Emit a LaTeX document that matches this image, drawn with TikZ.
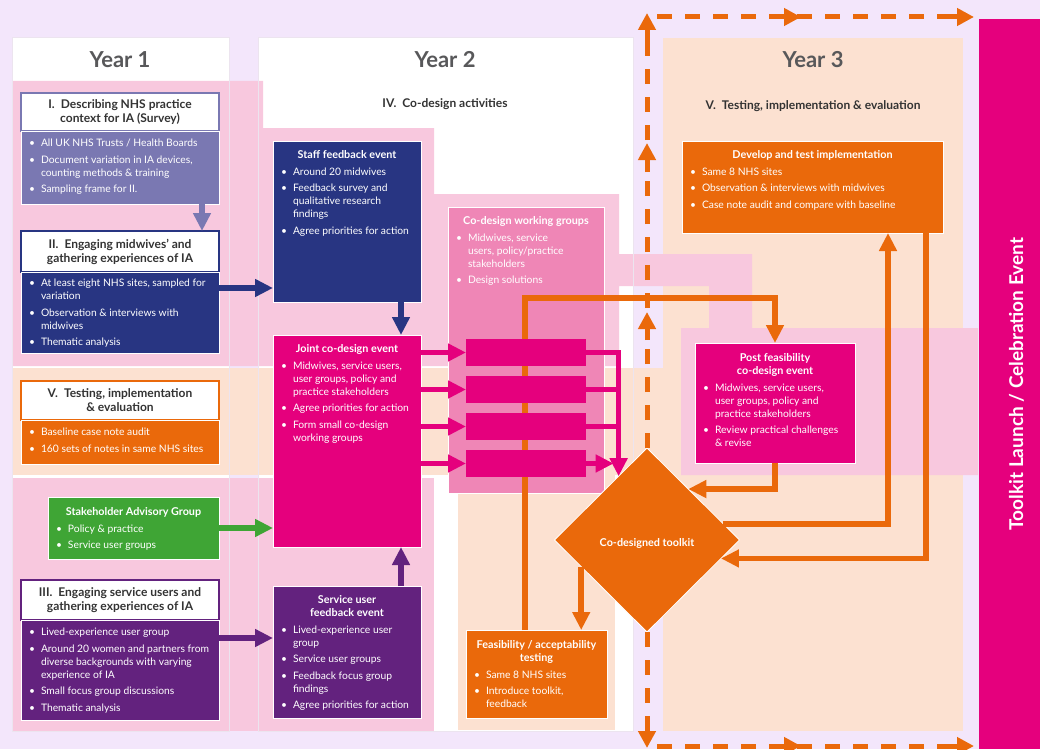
\documentclass[tikz,border=0pt]{standalone}
\usepackage{fontspec}
\setmainfont{Lato}
\usetikzlibrary{arrows.meta,shapes.geometric,calc}

\definecolor{lav}{HTML}{F3E6FB}
\definecolor{lpink}{HTML}{F8C8DE}
\definecolor{peach}{HTML}{FCE1D1}
\definecolor{mpink}{HTML}{EF86B6}
\definecolor{mag}{HTML}{E5007D}
\definecolor{navy}{HTML}{283582}
\definecolor{pgray}{HTML}{7A78B2}
\definecolor{purp}{HTML}{63227E}
\definecolor{orng}{HTML}{EA690B}
\definecolor{grn}{HTML}{3FA535}
\definecolor{ttlgray}{HTML}{58585A}
\definecolor{dark}{HTML}{333333}
\definecolor{colline}{HTML}{ECE4EF}

\newlength{\bulw}\setlength{\bulw}{12pt}
\newcommand{\itm}[1]{\par\hangindent=\bulw\hangafter=1\noindent\hbox to\bulw{\textbullet\hss}#1}
\newcommand{\ttl}[2]{{\centering\bfseries\fontsize{10.8}{13}\selectfont\rule{0pt}{#1}#2\par}}
\newcommand{\cbox}[3]{\parbox[t][#2][t]{#1}{\fontsize{10.3}{13}\selectfont\raggedright\setlength{\leftskip}{8pt}\setlength{\rightskip}{-30pt plus 1fil}\setlength{\parskip}{3.5pt}#3}}

\begin{document}
\begin{tikzpicture}[x=1pt,y=-1pt,
  box/.style={anchor=north west, inner sep=0pt, outer sep=0pt, text=white, draw=white, line width=0.6pt},
  barbox/.style={anchor=north west, inner sep=0pt, outer sep=0pt, fill=mag, minimum width=120pt, minimum height=27pt},
  hdr/.style={anchor=north west, fill=white, draw=#1, line width=1.2pt, minimum width=198pt, inner sep=0pt, outer sep=0pt, align=center, text=dark, font=\bfseries\fontsize{12}{14}\selectfont},
  yr/.style={font=\bfseries\fontsize{22}{24}\selectfont, text=ttlgray},
  sect/.style={font=\bfseries\fontsize{12}{14}\selectfont, text=dark},
  arr/.style={line width=5.5pt, -{Triangle[length=18pt,width=17pt]}},
  mline/.style={draw=mag, line width=5pt},
  dsh/.style={draw=orng, line width=5pt, dash pattern=on 15pt off 13pt},
  dhd/.style={draw=orng, line width=5pt, -{Triangle[length=17pt,width=17pt]}}
]
\useasboundingbox (0,0) rectangle (1040,749);
% backgrounds
\fill[lav] (0,0) rectangle (1040,749);
\fill[peach] (663,38) rectangle (963,731);
\fill[white] (12,38) rectangle (229,731);
\fill[white] (258,38) rectangle (633,731);
\fill[lpink] (12,81) -- (263,81) -- (263,128) -- (434,128) -- (434,194) -- (619,194) -- (619,254) -- (752,254) -- (752,328) -- (978,328) -- (978,475) -- (681,475) -- (681,328) -- (709,328) -- (709,286) -- (619,286) -- (619,366) -- (12,366) -- cycle;
\fill[peach] (12,368) rectangle (663,475);
\fill[peach] (458,475) rectangle (615,730);
\fill[lpink] (12,478) rectangle (434,731);
\draw[colline, line width=1pt] (12,38) rectangle (229,731);
\draw[colline, line width=1pt] (258,38) rectangle (633,731);

% toolkit bar
\node[fill=mag, rotate=90, minimum width=730pt, minimum height=61pt, inner sep=0pt, text=white, font=\bfseries\fontsize{19}{22}\selectfont] (tk) at (1009.5,384) {\raisebox{-7pt}[\height][\depth]{Toolkit Launch / Celebration Event}};

% titles
\node[yr] (y1) at (120,60) {Year 1};
\node[yr] (y2) at (445,60) {Year 2};
\node[yr] (y3) at (813,60) {Year 3};
\node[sect] (s4) at (445,104) {IV.\enspace Co-design activities};
\node[sect] (s5) at (813,106) {V.\enspace Testing, implementation \& evaluation};

% Year 1 boxes
\node[hdr=pgray, minimum height=38pt] (h1) at (21,93) {I.\enspace Describing NHS practice\\context for IA (Survey)};
\node[box, fill=pgray] (b1) at (21,131) {\cbox{198pt}{73pt}{\itm{\rule{0pt}{15.5pt}All UK NHS Trusts / Health Boards}\itm{Document variation in IA devices,\newline counting methods \& training}\itm{Sampling frame for II.}}};
\node[hdr=navy, minimum height=41pt] (h2) at (21,231) {II.\enspace Engaging midwives’ and\\gathering experiences of IA};
\node[box, fill=navy] (b2) at (21,272) {\cbox{198pt}{81pt}{\itm{\rule{0pt}{14.5pt}At least eight NHS sites, sampled for\newline variation}\itm{Observation \& interviews with\newline midwives}\itm{Thematic analysis}}};
\node[hdr=orng, minimum height=39pt] (h5) at (21,381) {V.\enspace Testing, implementation\\\& evaluation};
\node[box, fill=orng] (b5) at (21,420) {\cbox{198pt}{44pt}{\itm{\rule{0pt}{15.5pt}Baseline case note audit}\itm{160 sets of notes in same NHS sites}}};
\node[box, fill=grn] (sag) at (48,497) {\cbox{171pt}{62pt}{\ttl{18.5pt}{Stakeholder Advisory Group}\itm{Policy \& practice}\itm{Service user groups}}};
\node[hdr=purp, minimum height=40pt] (h3) at (21,580) {III.\enspace Engaging service users and\\gathering experiences of IA};
\node[box, fill=purp] (b3) at (21,620) {\cbox{198pt}{100pt}{\itm{\rule{0pt}{15.5pt}Lived-experience user group}\itm{Around 20 women and partners from\newline diverse backgrounds with varying\newline experience of IA}\itm{Small focus group discussions}\itm{Thematic analysis}}};

% Year 2 boxes
\node[box, fill=navy] (staff) at (273,141) {\cbox{148pt}{161pt}{\ttl{17.5pt}{Staff feedback event}\itm{Around 20 midwives}\itm{Feedback survey and\newline qualitative research\newline findings}\itm{Agree priorities for action}}};
\node[box, fill=mag] (joint) at (273,335) {\cbox{148pt}{212pt}{\ttl{17.5pt}{Joint co-design event}\itm{Midwives, service users,\newline user groups, policy and\newline practice stakeholders}\itm{Agree priorities for action}\itm{Form small co-design\newline working groups}}};
\node[box, fill=purp] (serv) at (273,586) {\cbox{148pt}{132pt}{\ttl{17.5pt}{Service user\\feedback event}\itm{Lived-experience user\newline group}\itm{Service user groups}\itm{Feedback focus group\newline findings}\itm{Agree priorities for action}}};
\node[box, fill=mpink] (cowg) at (448,207) {\cbox{156pt}{286pt}{\ttl{17.5pt}{Co-design working groups}\itm{Midwives, service\newline users, policy/practice\newline stakeholders}\itm{Design solutions}}};
\node[box, fill=orng] (feas) at (466,630) {\cbox{141pt}{88pt}{\ttl{18.5pt}{Feasibility / acceptability\\testing}\itm{Same 8 NHS sites}\itm{Introduce toolkit,\newline feedback}}};

% Year 3 boxes
\node[box, fill=orng] (dev) at (682,141) {\cbox{261pt}{92pt}{\ttl{17.5pt}{Develop and test implementation}\itm{Same 8 NHS sites}\itm{Observation \& interviews with midwives}\itm{Case note audit and compare with baseline}}};
\node[box, fill=mag] (post) at (695,343) {\cbox{160pt}{120pt}{\ttl{18.5pt}{Post feasibility\\co-design event}\itm{Midwives, service users,\newline user groups, policy and\newline practice stakeholders}\itm{Review practical challenges\newline \& revise}}};

% orange feasibility -> post feasibility line (behind bars)
\coordinate (a7) at ([xshift=-11.5pt]feas.north);
\coordinate (a8) at ([yshift=45pt]post.north);
\draw[arr, draw=orng] (a7) |- (a8) -- (post.north);

% bars
\node[barbox] (bar1) at (466,339) {};
\node[barbox] (bar2) at (466,376) {};
\node[barbox] (bar3) at (466,413) {};
\node[barbox] (bar4) at (466,450) {};

% diamond
\node[diamond, fill=orng, draw=white, line width=0.8pt, minimum width=185pt, minimum height=184pt, inner sep=0pt, outer sep=0pt, text=white, font=\bfseries\fontsize{10.8}{12}\selectfont] (dia) at (647,540) {\raisebox{-3pt}[\height][\depth]{Co-designed toolkit}};

% dashed launch paths
\draw[dsh] (dia.north) -- (647,30);
\draw[dsh] (657,17) -- (965,17);
\draw[dsh] (dia.south) -- (647,735);
\draw[dsh] (657,746) -- (965,746);
\draw[dhd] (647,45) -- (647,13);
\draw[dhd] (647,172) -- (647,143);
\draw[dhd] (647,340) -- (647,312);
\draw[dhd] (770,17) -- (801,17);
\draw[dhd] (945,17) -- (974,17);
\draw[dhd] (647,720) -- (647,748);
\draw[dhd] (770,746) -- (801,746);
\draw[dhd] (945,746) -- (974,746);

% Year 1 connectors
\coordinate (a1) at ([xshift=82pt]b1.south);
\draw[arr, draw=pgray] (a1) -- (a1 |- h2.north);
\coordinate (a2) at ([yshift=24.5pt]b2.east);
\draw[arr, draw=navy] (a2) -- (a2 -| staff.west);
\draw[arr, draw=grn] (sag.east) -- (sag.east -| joint.west);
\coordinate (a4) at ([yshift=32pt]b3.east);
\draw[arr, draw=purp] (a4) -- (a4 -| serv.west);

% Year 2 connectors
\coordinate (a5) at ([xshift=54pt]staff.south);
\draw[arr, draw=navy] (a5) -- (a5 |- joint.north);
\coordinate (a6) at ([xshift=54pt]serv.north);
\draw[arr, draw=purp] (a6) -- (a6 |- joint.south);
\foreach \b in {bar1,bar2,bar3,bar4} \draw[arr, draw=mag] (\b.west -| joint.east) -- (\b.west);
\coordinate (mt) at (dia.114.65);
\draw[arr, draw=mag] (bar1.east) -| (mt);
\draw[mline] (bar2.east) -- (bar2.east -| mt);
\draw[mline] (bar3.east) -- (bar3.east -| mt);
\coordinate (m4) at (bar4.east -| mt);
\draw[arr, draw=mag] (bar4.east) -- ([xshift=-5pt]m4);
\coordinate (d1) at (dia.202.8);
\draw[arr, draw=orng] (d1) -- (d1 |- feas.north);

% Year 3 connectors
\draw[arr, draw=orng] (post.south) |- (dia.51.07);
\coordinate (e1) at ([xshift=75.5pt]dev.south);
\draw[arr, draw=orng] (dia.12.7) -| (e1);
\coordinate (e2) at ([xshift=113.5pt]dev.south);
\draw[arr, draw=orng] (e2) |- (dia.-14.5);
\end{tikzpicture}
\end{document}
